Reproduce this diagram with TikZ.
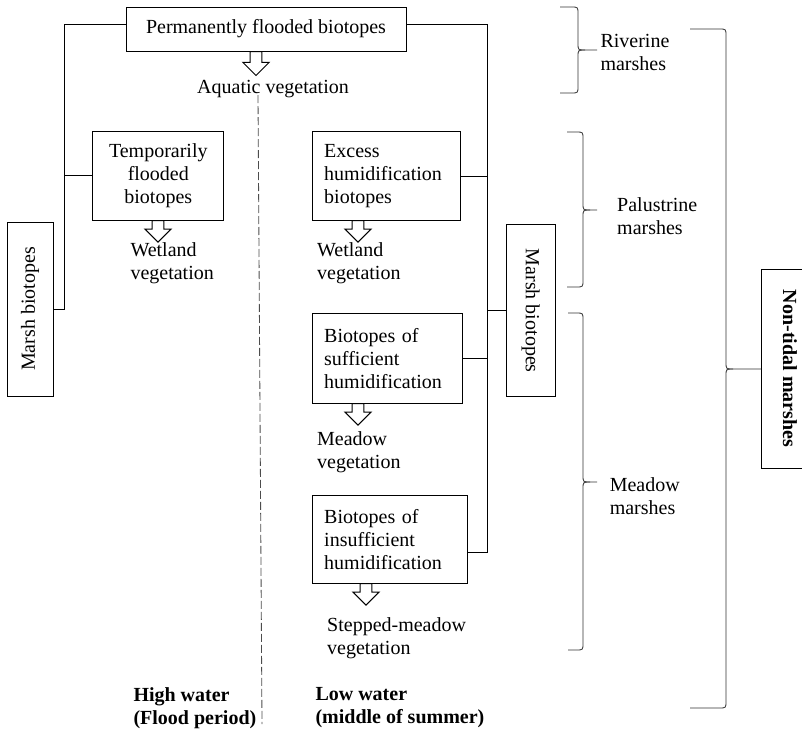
\documentclass[tikz,border=0pt]{standalone}
\usepackage{fontspec}
\setmainfont{Liberation Serif}
\usepackage{tikz}
\usetikzlibrary{positioning, shapes.arrows}

% curly brace opening to the right: left end, stem x, tip x, top y, tip y, bottom y
\newcommand{\marshbrace}[6]{%
  \draw[bracestyle] (#1,#4) -- ({#2-7},#4) .. controls (#2,#4) .. (#2,{#4+7})
    -- (#2,{#5-7}) .. controls (#2,#5) .. ({#2+7},#5) -- (#3,#5);
  \draw[bracestyle] ({#2+7},#5) .. controls (#2,#5) .. (#2,{#5+7})
    -- (#2,{#6-7}) .. controls (#2,#6) .. ({#2-7},#6) -- (#1,#6);
}

\begin{document}
\begin{tikzpicture}[x=0.6pt, y=-0.6pt, line width=0.6pt,
  font=\fontsize{12}{13.8}\selectfont,
  box/.style={draw, rectangle, align=center, inner sep=0pt},
  leftbox/.style={draw, rectangle, align=left, inner xsep=7.2pt, inner ysep=0pt, anchor=north west},
  sidebox/.style={draw, rectangle, inner sep=0pt},
  vegtext/.style={align=left, inner sep=0pt, anchor=north west},
  periodtext/.style={vegtext, font=\fontsize{12}{13.8}\selectfont\bfseries},
  hollow/.style={draw, single arrow, shape border rotate=270, inner sep=3.2pt,
    minimum height=13pt, single arrow head extend=4.4pt, anchor=tail},
  bracestyle/.style={line width=0.5pt, draw=black!80}]
  \clip (0,0) rectangle (802,730);

  \node (flooded) [box, minimum width=168pt, minimum height=26.4pt] at (266,29) {Permanently flooded biotopes};
  \node (temporary) [box, minimum width=78.6pt, minimum height=53.4pt] at (158.3,175.5) {Temporarily\\flooded\\biotopes};
  \node (excess) [leftbox, text width=74.4pt, minimum height=53.4pt] at (311.7,131) {Excess\\humidification\\biotopes};
  \node (sufficient) [leftbox, text width=75.6pt, minimum height=54pt] at (311.7,313) {Biotopes of\\sufficient\\humidification};
  \node (insufficient) [leftbox, text width=78.6pt, minimum height=52.8pt] at (311.7,495) {Biotopes of\\insufficient\\humidification};

  \node (marshleft) [sidebox, rotate=90, minimum width=104.4pt, minimum height=27.6pt] at (30,309) {Marsh biotopes};
  \node (marshright) [sidebox, rotate=-90, minimum width=103pt, minimum height=29.6pt] at (530.7,310.8) {Marsh biotopes};
  \node (nontidal) [sidebox, rotate=-90, minimum width=119.4pt, minimum height=34.8pt,
    font=\fontsize{12}{13.8}\selectfont\bfseries] at (790,368.5) {Non-tidal marshes};

  \node (arrflooded) [hollow, minimum height=14.4pt] at (256,51) {};
  \node (arrtemporary) [hollow] at (158,220) {};
  \node (arrexcess) [hollow] at (358,220) {};
  \node (arrsufficient) [hollow] at (358,403) {};
  \node (arrinsufficient) [hollow] at (366,583) {};

  \node (aquatic) [vegtext] at (196.7,80) {Aquatic vegetation};
  \node (wetleft) [vegtext] at (130,242) {Wetland\\vegetation};
  \node (wetright) [vegtext] at (316.7,242) {Wetland\\vegetation};
  \node (meadowveg) [vegtext] at (316.7,430.7) {Meadow\\vegetation};
  \node (steppeveg) [vegtext] at (326.7,616.7) {Stepped-meadow\\vegetation};
  \node (riverine) [vegtext] at (600,33.3) {Riverine\\marshes};
  \node (palustrine) [vegtext] at (616.7,196.7) {Palustrine\\marshes};
  \node (meadowmarsh) [vegtext] at (609.3,476.7) {Meadow\\marshes};
  \node (highwater) [periodtext] at (133,686.7) {High water\\(Flood period)};
  \node (lowwater) [periodtext] at (315,686.7) {Low water\\(middle of summer)};

  % buses
  \coordinate (westbus) at (64.5,0);
  \coordinate (eastbus) at (487,0);
  \coordinate (insufport) at ([yshift=-7.8pt]insufficient.east);
  \draw ([yshift=2.6pt]flooded.west) -| (westbus |- marshleft.south) -- (marshleft.south);
  \draw (temporary.west) -- (temporary.west -| westbus);
  \draw ([yshift=2.6pt]flooded.east) -| (eastbus |- insufport) -- (insufport);
  \draw (excess.east) -- (excess.east -| eastbus);
  \draw (sufficient.east) -- (sufficient.east -| eastbus);
  \draw (marshright.south) -- (marshright.south -| eastbus);

  % high / low water divide
  \draw[dash pattern=on 4.8pt off 1.8pt, line width=0.5pt, black!70] (258,95) -- (262,724);

  \marshbrace{560}{578}{597}{7}{50}{93}
  \marshbrace{567}{583}{597}{132}{210}{287}
  \marshbrace{568}{583}{597}{313}{482}{650}
  \marshbrace{690}{726}{761}{29}{369}{708}
\end{tikzpicture}
\end{document}
